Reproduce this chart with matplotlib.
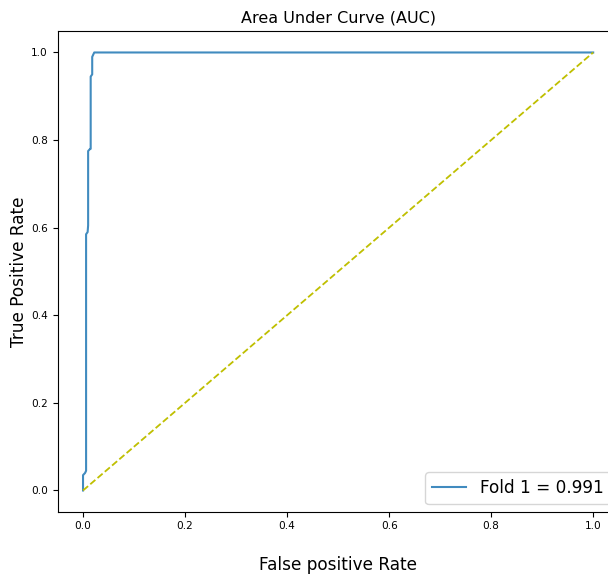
import matplotlib.pyplot as plt

# ROC points
fpr = [0.0, 0.0, 0.004, 0.006, 0.006, 0.009, 0.010, 0.010, 0.014, 0.015, 0.015, 0.018, 0.018, 0.022, 1.0]
tpr = [0.0, 0.035, 0.040, 0.045, 0.585, 0.590, 0.605, 0.775, 0.780, 0.780, 0.945, 0.950, 0.990, 1.0, 1.0]
auc_label = "Fold 1 = 0.991"
chance_x = [0, 1]
chance_y = [0, 1]

fig = plt.figure(figsize=(6.08, 5.77), dpi=100)
ax = fig.add_axes([0.0946, 0.112, 0.923, 0.835])
ax.plot(fpr, tpr, color="#1f77b4", lw=1.5, alpha=0.85, label=auc_label)
ax.plot(chance_x, chance_y, "y--", lw=1.3)
ax.set_title("Area Under Curve (AUC)", fontsize=11.5)
ax.set_xlabel("False positive Rate", fontsize=12.2, labelpad=18)
ax.set_ylabel("True Positive Rate", fontsize=12.2, labelpad=2)
ax.tick_params(labelsize=7.6)
ax.tick_params(axis="x", pad=2.5)
ax.legend(loc="lower right", fontsize=12.2)
plt.savefig("out.png")
